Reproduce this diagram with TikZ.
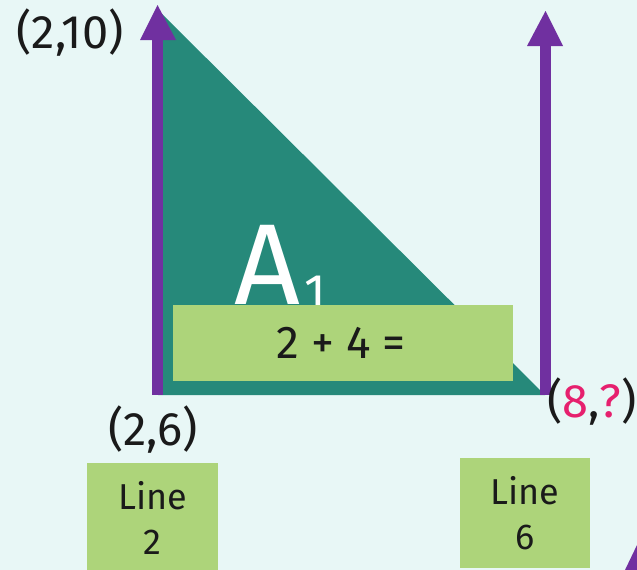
\documentclass[tikz,border=0pt]{standalone}
\usepackage{fontspec}
\setmainfont{Fira Sans}
\definecolor{bgc}{HTML}{E8F7F6}
\definecolor{teal}{HTML}{26897A}
\definecolor{purp}{HTML}{7030A0}
\definecolor{lgreen}{HTML}{ADD47A}
\definecolor{pinkc}{HTML}{E6206E}
\definecolor{ink}{HTML}{1A1A1A}
\begin{document}
\begin{tikzpicture}[x=1pt,y=-1pt,
  lbl/.style={font=\fontsize{47}{50}\selectfont, text=ink, inner sep=0pt},
  gbox/.style={fill=lgreen, draw=none, inner sep=0pt},
  btext/.style={font=\fontsize{36}{45}\selectfont, text=ink, align=center, inner sep=0pt},
  arr/.style={purp, fill=purp}]
\useasboundingbox (0,0) rectangle (637,570);
\fill[bgc] (0,0) rectangle (637,570);
% triangle
\coordinate (T) at (158,10);
\coordinate (BL) at (158,395);
\coordinate (BR) at (545,395);
\fill[teal] (T) -- (BL) -- (BR) -- cycle;
% A1 label
\node[text=white, inner sep=0pt, anchor=base west, font=\fontsize{115}{115}\selectfont] (A) at (234,304) {A\hspace{4pt}\raisebox{-0.05em}{\fontsize{50}{50}\selectfont 1}};
% left arrow
\fill[arr] (152,395) rectangle (163,38);
\fill[arr] (140,40) -- (157.5,5) -- (176,40) -- cycle;
% right arrow
\fill[arr] (540,395) rectangle (551,44);
\fill[arr] (527,46) -- (545.5,11) -- (563,46) -- cycle;
% green box
\node[gbox, minimum width=340pt, minimum height=76pt] (eq) at (343,343) {};
\node[lbl, font=\fontsize{46}{50}\selectfont] (eqt) at (341,343) {2\ +\ 4\ =};
% labels
\node[lbl] (p1) at (70,33) {(2,10)};
\node[lbl] (p2) at (153,430) {(2,6)};
\node[lbl, anchor=west] (p3) at (547,402) {(\textcolor{pinkc}{8},\textcolor{pinkc}{?})};
% line boxes
\node[gbox, minimum width=131pt, minimum height=110pt] (l2) at (152.5,518) {};
\node[btext] (l2t) at (152.5,518) {Line\\2};
\node[gbox, minimum width=130pt, minimum height=110pt] (l6) at (525,513) {};
\node[btext] (l6t) at (525,513) {Line\\6};
% cut-off shape in corner
\fill[purp] (625,570) -- (637,545) -- (637,570) -- cycle;
\end{tikzpicture}
\end{document}
